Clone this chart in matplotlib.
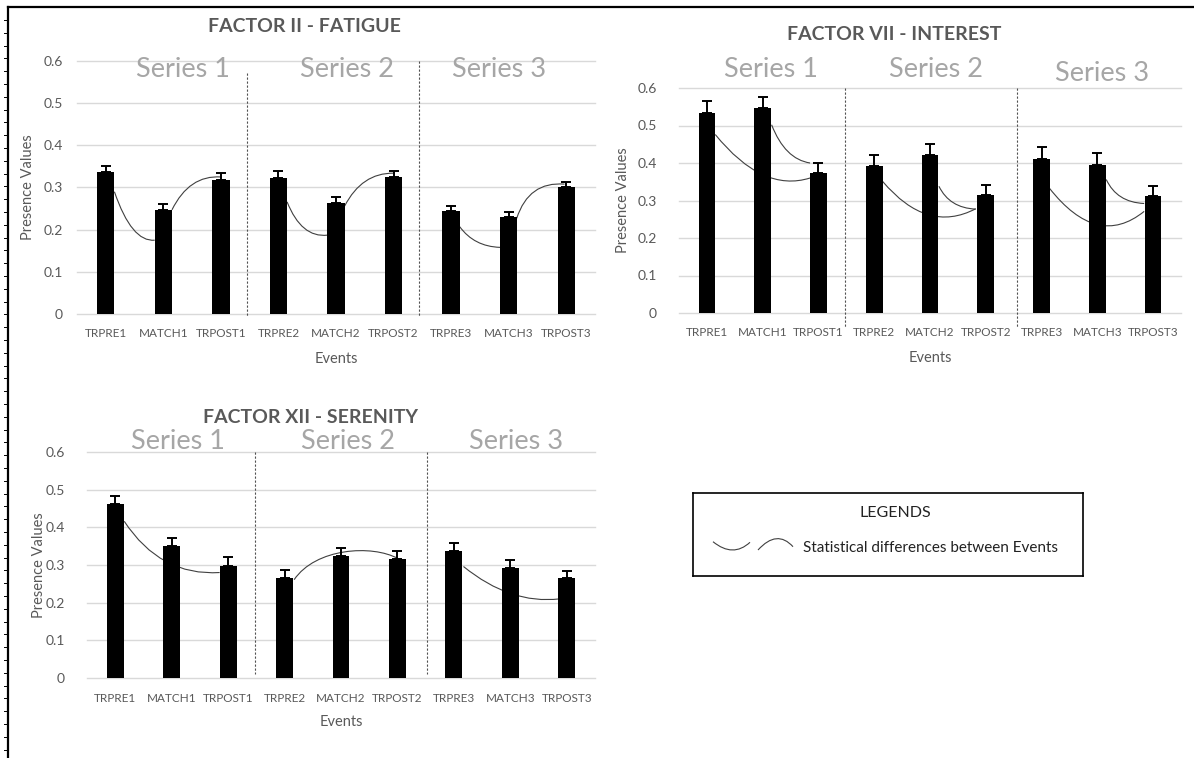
import numpy as np
import matplotlib.pyplot as plt
from matplotlib.path import Path
from matplotlib.patches import PathPatch

plt.rcParams['font.family'] = ['Lato', 'DejaVu Sans']

events = ['TRPRE1', 'MATCH1', 'TRPOST1', 'TRPRE2', 'MATCH2', 'TRPOST2',
          'TRPRE3', 'MATCH3', 'TRPOST3']
series_names = ['Series 1', 'Series 2', 'Series 3']
yticks = [0, 0.1, 0.2, 0.3, 0.4, 0.5, 0.6]

fatigue = [0.337, 0.247, 0.318, 0.323, 0.263, 0.325, 0.244, 0.229, 0.300]
fatigue_err = [0.015, 0.015, 0.017, 0.015, 0.015, 0.015, 0.013, 0.014, 0.014]

interest = [0.533, 0.547, 0.373, 0.393, 0.421, 0.315, 0.411, 0.395, 0.312]
interest_err = [0.032, 0.028, 0.028, 0.027, 0.031, 0.026, 0.031, 0.031, 0.028]

serenity = [0.463, 0.351, 0.298, 0.266, 0.325, 0.317, 0.338, 0.293, 0.266]
serenity_err = [0.019, 0.020, 0.022, 0.020, 0.019, 0.020, 0.020, 0.019, 0.017]

# significance curves: bezier control points (event index, presence value)
fatigue_arcs = [
    [(0.15, 0.290), (0.45, 0.170), (0.85, 0.175)],
    [(1.15, 0.247), (1.45, 0.330), (2.00, 0.325)],
    [(3.15, 0.266), (3.40, 0.180), (3.85, 0.187)],
    [(4.15, 0.256), (4.45, 0.335), (5.00, 0.334)],
    [(6.15, 0.207), (6.40, 0.160), (6.85, 0.158)],
    [(7.14, 0.227), (7.35, 0.315), (7.97, 0.308)],
]
interest_arcs = [
    [(0.15, 0.476), (1.00, 0.320), (1.85, 0.360)],
    [(1.16, 0.502), (1.40, 0.410), (1.85, 0.400)],
    [(3.15, 0.351), (3.95, 0.210), (4.82, 0.278)],
    [(4.16, 0.338), (4.35, 0.280), (4.82, 0.277)],
    [(6.14, 0.333), (7.00, 0.170), (7.84, 0.271)],
    [(7.16, 0.356), (7.35, 0.295), (7.84, 0.292)],
]
serenity_arcs = [
    [(0.16, 0.416), (0.80, 0.270), (1.85, 0.280)],
    [(3.17, 0.261), (3.55, 0.345), (4.55, 0.355), (5.01, 0.317)],
    [(6.17, 0.296), (7.00, 0.195), (7.87, 0.210)],
]

W, H = 1194, 758
GREY = '#595959'
ARC = '#404040'
fig = plt.figure(figsize=(W / 100, H / 100), dpi=100)


def px_axes(left, top, right, bottom):
    return fig.add_axes([left / W, 1 - bottom / H, (right - left) / W, (bottom - top) / H])


def draw_panel(ax, title, values, errs, arcs, layout):
    x = np.arange(len(events))
    ax.bar(x, values, width=0.3, color='black', zorder=3)
    ax.errorbar(x, values, yerr=[np.zeros(len(values)), errs], fmt='none',
                ecolor='black', elinewidth=1.4, capsize=3.5, capthick=1.4, zorder=4)

    for pts in arcs:
        step = Path.CURVE3 if len(pts) == 3 else Path.CURVE4
        path = Path(pts, [Path.MOVETO] + [step] * (len(pts) - 1))
        ax.add_patch(PathPatch(path, fill=False, edgecolor=ARC, lw=0.8, zorder=2))

    for sx, y0, y1 in layout['seps']:
        ax.plot([sx, sx], [y0, y1], ls=(0, (2, 1.6)), color='#505050', lw=0.8,
                clip_on=False, zorder=1)

    for name, (sx, sy) in zip(series_names, layout['series']):
        ax.text(sx, sy, name, ha='center', va='center', fontsize=19.5,
                color='#a6a6a6', clip_on=False)

    ax.set_xlim(-0.5, 8.5)
    ax.set_ylim(0, 0.6)
    ax.set_xticks(x)
    ax.set_xticklabels(events)
    ax.set_yticks(yticks)
    ax.set_yticklabels([f'{t:g}' for t in yticks])
    ax.tick_params(axis='x', length=0, labelsize=8.5, colors=GREY, pad=layout['xpad'])
    ax.tick_params(axis='y', length=0, labelsize=10, colors=GREY, pad=layout['ypad'])
    ax.grid(axis='y', color='#d9d9d9', lw=1)
    ax.set_axisbelow(True)
    for line in ax.get_ygridlines():
        line.set_clip_on(False)
    for sp in ax.spines.values():
        sp.set_visible(False)

    tx, ty = layout['title']
    ax.text(tx, ty, title, transform=ax.transAxes, ha='center', va='center',
            fontsize=14, fontweight='bold', color=GREY)
    ax.text(0.5, layout['xlab'], 'Events', transform=ax.transAxes,
            ha='center', va='center', fontsize=10.5, color=GREY)
    ax.text(layout['ylab'], 0.5, 'Presence Values', transform=ax.transAxes,
            ha='center', va='center', rotation=90, fontsize=10.5, color=GREY)


ax1 = px_axes(77, 61, 595, 314)
draw_panel(ax1, 'FACTOR II - FATIGUE', fatigue, fatigue_err, fatigue_arcs, {
    'seps': [(2.46, 0.572, -0.004), (5.44, 0.6, -0.006)],
    'series': [(1.34, 0.58), (4.19, 0.58), (6.84, 0.58)],
    'title': (0.44, 1.138), 'xlab': -0.176, 'ylab': -0.095,
    'xpad': 10, 'ypad': 10,
})

ax2 = px_axes(679, 88, 1181, 313)
draw_panel(ax2, 'FACTOR VII - INTEREST', interest, interest_err, interest_arcs, {
    'seps': [(2.47, 0.6, -0.04), (5.56, 0.6, -0.04)],
    'series': [(1.15, 0.649), (4.11, 0.649), (7.09, 0.638)],
    'title': (0.428, 1.237), 'xlab': -0.198, 'ylab': -0.112,
    'xpad': 10, 'ypad': 16,
})

ax3 = px_axes(87, 452, 595, 678)
draw_panel(ax3, 'FACTOR XII - SERENITY', serenity, serenity_err, serenity_arcs, {
    'seps': [(2.47, 0.6, 0.01), (5.52, 0.6, 0.01)],
    'series': [(1.11, 0.627), (4.12, 0.627), (7.10, 0.627)],
    'title': (0.44, 1.152), 'xlab': -0.195, 'ylab': -0.095,
    'xpad': 11, 'ypad': 16,
})

# legend box
leg = px_axes(693, 493, 1083, 576)
leg.set_xlim(0, 390)
leg.set_ylim(83, 0)
leg.set_xticks([])
leg.set_yticks([])
for sp in leg.spines.values():
    sp.set_color('black')
    sp.set_linewidth(1.2)
leg.text(202, 20, 'LEGENDS', ha='center', va='center', fontsize=11.5, color='#222222')
smile = Path([(20, 48.7), (40, 65), (57, 49.3)], [Path.MOVETO, Path.CURVE3, Path.CURVE3])
frown = Path([(65, 57), (84, 36), (100, 53.7)], [Path.MOVETO, Path.CURVE3, Path.CURVE3])
for p in (smile, frown):
    leg.add_patch(PathPatch(p, fill=False, edgecolor=ARC, lw=0.8))
leg.text(110, 55.3, 'Statistical differences between Events', ha='left', va='center',
         fontsize=11, color='#222222')

# page frame on the top and left edges
frame = fig.add_axes([0, 0, 1, 1], facecolor='none')
frame.set_xlim(0, W)
frame.set_ylim(H, 0)
frame.axis('off')
frame.plot([8, W], [7, 7], color='black', lw=1.6)
frame.plot([8, 8], [7, H], color='black', lw=1.6)
for ty in np.arange(20, H, 12.8):
    frame.plot([4, 8], [ty, ty], color='black', lw=0.7)

fig.savefig('out.png', dpi=100)
